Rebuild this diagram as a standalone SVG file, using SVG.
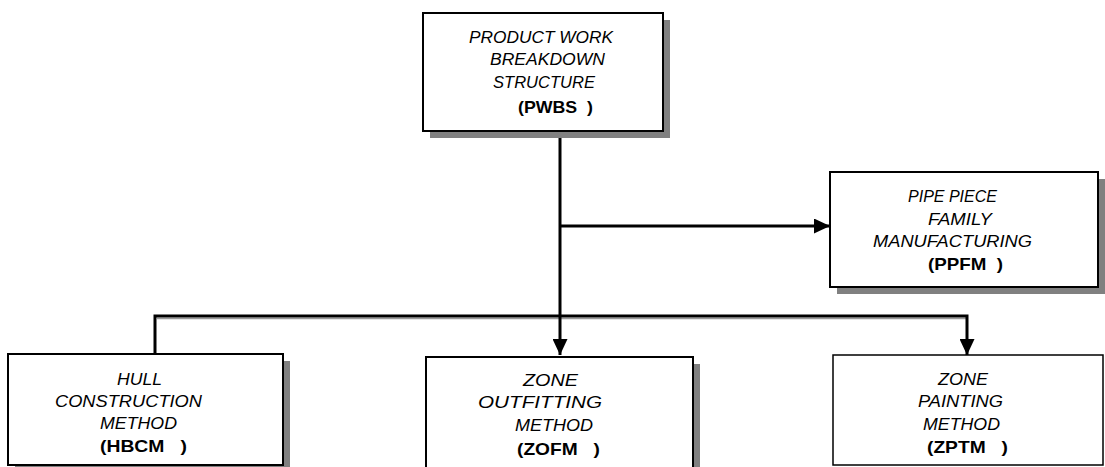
<svg xmlns="http://www.w3.org/2000/svg" width="1105" height="467" viewBox="0 0 1105 467">
  <style>
    .box { fill: #ffffff; stroke: #000000; stroke-width: 2; }
    .thin { stroke-width: 1.5; }
    .shadow { fill: #808080; }
    .lbl { font-family: "Liberation Sans", Arial, sans-serif; font-size: 17px; font-style: italic; fill: #000000; }
    .code { font-family: "Liberation Sans", Arial, sans-serif; font-size: 17px; font-weight: bold; fill: #000000; white-space: pre; }
    .wire { fill: none; stroke: #000000; stroke-width: 3; }
    .wire-shade { fill: none; stroke: #9a9a9a; stroke-width: 1.5; }
  </style>
  <defs>
    <marker id="arrow" markerUnits="userSpaceOnUse" markerWidth="16" markerHeight="15" viewBox="0 0 16 15" refX="16" refY="7.5" orient="auto">
      <path d="M0,0 L16,7.5 L0,15 Z" fill="#000000"/>
    </marker>
  </defs>
  <rect width="1105" height="467" fill="#ffffff"/>

  <!-- connectors -->
  <g id="connectors">
    <path class="wire-shade" d="M157,318.5 H967"/>
    <path class="wire" d="M560,131 V355" marker-end="url(#arrow)"/>
    <path class="wire" d="M560,226 H830" marker-end="url(#arrow)"/>
    <path class="wire" d="M155,353 V316 H967 V355" marker-end="url(#arrow)"/>
  </g>

  <!-- top level -->
  <g id="pwbs">
    <rect class="shadow" x="430" y="20" width="240" height="118"/>
    <rect class="box" x="423" y="13" width="240" height="118"/>
    <text class="lbl" x="469" y="43" textLength="144" lengthAdjust="spacingAndGlyphs">PRODUCT WORK</text>
    <text class="lbl" x="490" y="65" textLength="115" lengthAdjust="spacingAndGlyphs">BREAKDOWN</text>
    <text class="lbl" x="493" y="88" textLength="102" lengthAdjust="spacingAndGlyphs">STRUCTURE</text>
    <text class="code" x="518" y="113" textLength="75" lengthAdjust="spacingAndGlyphs">(PWBS  )</text>
  </g>

  <g id="ppfm">
    <rect class="shadow" x="837" y="179" width="268" height="115"/>
    <rect class="box" x="830" y="172" width="268" height="115"/>
    <text class="lbl" x="908" y="202" textLength="89" lengthAdjust="spacingAndGlyphs">PIPE PIECE</text>
    <text class="lbl" x="928" y="225" textLength="64" lengthAdjust="spacingAndGlyphs">FAMILY</text>
    <text class="lbl" x="873" y="247" textLength="159" lengthAdjust="spacingAndGlyphs">MANUFACTURING</text>
    <text class="code" x="928" y="270" textLength="75" lengthAdjust="spacingAndGlyphs">(PPFM  )</text>
  </g>

  <g id="hbcm">
    <rect class="shadow" x="15" y="361" width="275" height="111"/>
    <rect class="box" x="8" y="354" width="275" height="111"/>
    <text class="lbl" x="117" y="385" textLength="45" lengthAdjust="spacingAndGlyphs">HULL</text>
    <text class="lbl" x="55" y="407" textLength="147" lengthAdjust="spacingAndGlyphs">CONSTRUCTION</text>
    <text class="lbl" x="100" y="429" textLength="77" lengthAdjust="spacingAndGlyphs">METHOD</text>
    <text class="code" x="100" y="452" textLength="87" lengthAdjust="spacingAndGlyphs">(HBCM   )</text>
  </g>

  <g id="zofm">
    <rect class="shadow" x="433" y="364" width="267" height="120"/>
    <rect class="box" x="426" y="357" width="267" height="120"/>
    <text class="lbl" x="523" y="386" textLength="55" lengthAdjust="spacingAndGlyphs">ZONE</text>
    <text class="lbl" x="478" y="408" textLength="124" lengthAdjust="spacingAndGlyphs">OUTFITTING</text>
    <text class="lbl" x="515" y="431" textLength="78" lengthAdjust="spacingAndGlyphs">METHOD</text>
    <text class="code" x="517" y="455" textLength="83" lengthAdjust="spacingAndGlyphs">(ZOFM   )</text>
  </g>

  <g id="zptm">
    <rect class="box thin" x="833" y="355" width="270" height="110"/>
    <text class="lbl" x="938" y="385" textLength="50" lengthAdjust="spacingAndGlyphs">ZONE</text>
    <text class="lbl" x="918" y="407" textLength="85" lengthAdjust="spacingAndGlyphs">PAINTING</text>
    <text class="lbl" x="923" y="430" textLength="77" lengthAdjust="spacingAndGlyphs">METHOD</text>
    <text class="code" x="927" y="453" textLength="81" lengthAdjust="spacingAndGlyphs">(ZPTM   )</text>
  </g>
</svg>
